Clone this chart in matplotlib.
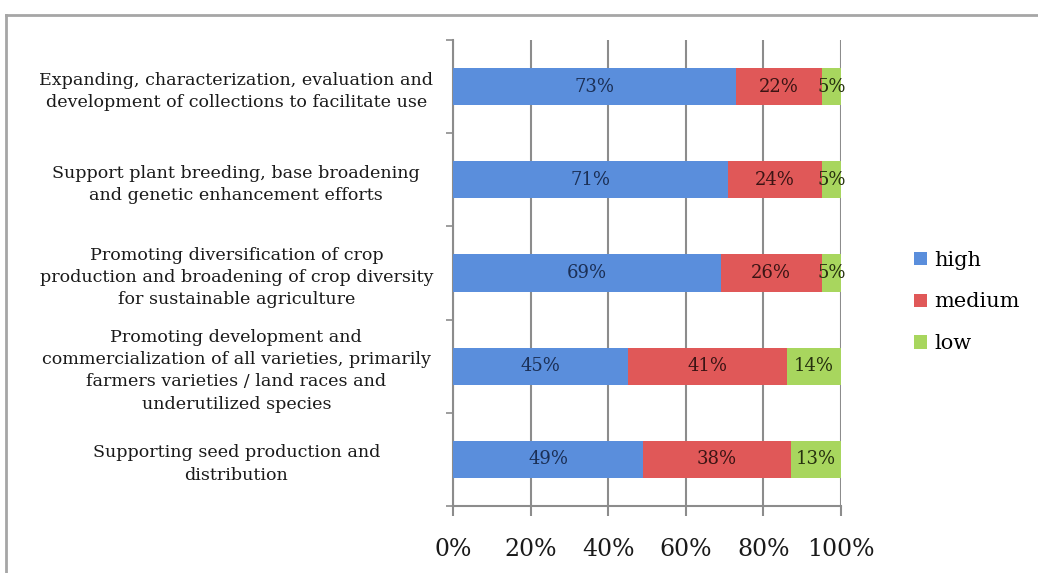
import matplotlib
matplotlib.use('Agg')
import matplotlib.pyplot as plt
from matplotlib.lines import Line2D
from matplotlib.ticker import FixedLocator, PercentFormatter
import numpy as np

plt.rcParams['font.family'] = ['DejaVu Serif']

categories = [
    "Expanding, characterization, evaluation and\ndevelopment of collections to facilitate use",
    "Support plant breeding, base broadening\nand genetic enhancement efforts",
    "Promoting diversification of crop\nproduction and broadening of crop diversity\nfor sustainable agriculture",
    "Promoting development and\ncommercialization of all varieties, primarily\nfarmers varieties / land races and\nunderutilized species",
    "Supporting seed production and\ndistribution",
]
high = [73, 71, 69, 45, 49]
medium = [22, 24, 26, 41, 38]
low = [5, 5, 5, 14, 13]
series = [("high", high), ("medium", medium), ("low", low)]

# fill colour, label colour
colors = {
    "high": ("#5a8edc", "#1b2f55"),
    "medium": ("#e05858", "#3b1414"),
    "low": ("#a8d65e", "#26300f"),
}

fig = plt.figure(figsize=(10.38, 5.73), dpi=100)
ax = fig.add_axes([0.4364, 0.1169, 0.3738, 0.8133])

y = np.arange(len(categories))
left = np.zeros(len(categories))
for name, vals in series:
    fc, tc = colors[name]
    bars = ax.barh(y, vals, left=left, height=0.4, color=fc, label=name, zorder=3)
    for b, v in zip(bars, vals):
        ax.text(b.get_x() + b.get_width() / 2, b.get_y() + b.get_height() / 2,
                f"{v}%", ha="center", va="center", fontsize=13, color=tc, zorder=4)
    left += np.array(vals)

ax.set_xlim(0, 100)
ax.set_ylim(len(categories) - 0.5, -0.5)

ax.set_xticks(np.arange(0, 101, 20))
ax.xaxis.set_major_formatter(PercentFormatter(decimals=0))
ax.tick_params(axis="x", direction="out", length=7, width=1.5, color="#8c8c8c",
               labelsize=17, pad=16, labelcolor="#1a1a1a")
ax.xaxis.grid(True, color="#8c8c8c", lw=1.5, zorder=0)

ax.set_yticks(y)
ax.set_yticklabels(categories, fontsize=12.6, ha="center", linespacing=1.4, color="#1a1a1a")
ax.tick_params(axis="y", which="major", length=0, pad=156)
ax.yaxis.set_minor_locator(FixedLocator(np.arange(-0.5, len(categories), 1.0)))
ax.tick_params(axis="y", which="minor", direction="out", length=5, width=1.2, color="#8c8c8c")

for s in ("top", "right"):
    ax.spines[s].set_visible(False)
for s in ("left", "bottom"):
    ax.spines[s].set_color("#8c8c8c")
    ax.spines[s].set_linewidth(1.5)

fig.legend(loc="center left", bbox_to_anchor=(0.881, 0.473), frameon=False,
           fontsize=15, handlelength=0.6, handleheight=0.6, handletextpad=0.35,
           labelspacing=1.1, borderaxespad=0, borderpad=0)

# outer frame of the figure box
fig.add_artist(Line2D([0.0058, 0.0058], [0, 1 - 15 / 573], transform=fig.transFigure,
                      color="#a6a6a6", lw=2))
fig.add_artist(Line2D([0.0058, 1], [1 - 15 / 573, 1 - 15 / 573], transform=fig.transFigure,
                      color="#a6a6a6", lw=2))

fig.savefig("out.png", dpi=100)
